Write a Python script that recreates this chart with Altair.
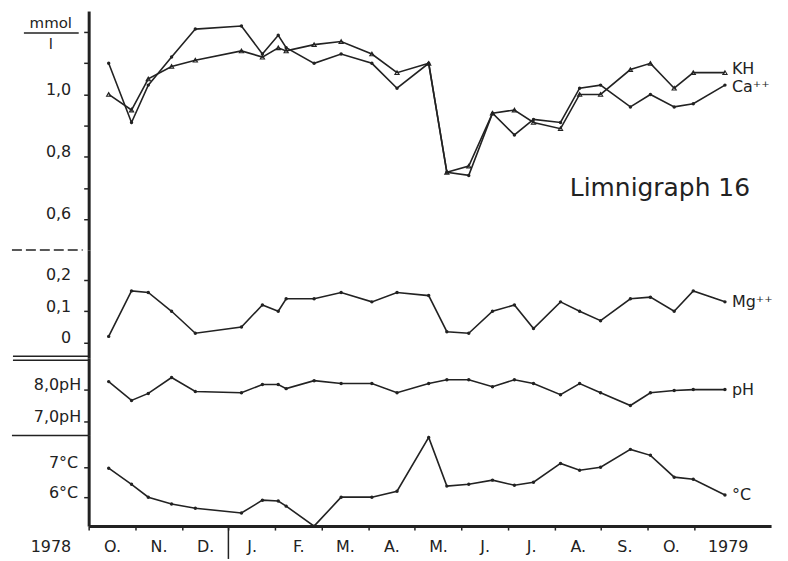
import altair as alt
import pandas as pd

# Sampling dates, in months since 1 October 1978 (ticks fall on month starts)
sample_month = [0.43, 0.92, 1.28, 1.78, 2.29, 3.28, 3.73, 4.07, 4.24, 4.84,
                5.42, 6.08, 6.62, 7.30, 7.69, 8.16, 8.67, 9.14, 9.55, 10.13,
                10.54, 10.99, 11.63, 12.06, 12.57, 12.98, 13.66]

# Carbonate hardness and calcium, mmol/l
kh = [1.00, 0.95, 1.05, 1.09, 1.11, 1.14, 1.12, 1.15, 1.14, 1.16,
      1.17, 1.13, 1.07, 1.10, 0.75, 0.77, 0.94, 0.95, 0.91, 0.89,
      1.00, 1.00, 1.08, 1.10, 1.02, 1.07, 1.07]
ca = [1.10, 0.91, 1.03, 1.12, 1.21, 1.22, 1.13, 1.19, 1.15, 1.10,
      1.13, 1.10, 1.02, 1.10, 0.75, 0.74, 0.94, 0.87, 0.92, 0.91,
      1.02, 1.03, 0.96, 1.00, 0.96, 0.97, 1.03]
# Magnesium, mmol/l
mg = [0.02, 0.165, 0.16, 0.10, 0.03, 0.05, 0.12, 0.10, 0.14, 0.14,
      0.16, 0.13, 0.16, 0.15, 0.035, 0.03, 0.10, 0.12, 0.045, 0.13,
      0.10, 0.07, 0.14, 0.145, 0.10, 0.165, 0.13]
# pH
ph = [8.25, 7.66, 7.88, 8.38, 7.94, 7.90, 8.16, 8.16, 8.03, 8.28,
      8.19, 8.19, 7.90, 8.19, 8.31, 8.31, 8.09, 8.31, 8.19, 7.84,
      8.19, 7.90, 7.50, 7.90, 7.97, 8.00, 8.00]
# Water temperature, deg C
temp = [6.97, 6.43, 6.00, 5.77, 5.63, 5.47, 5.90, 5.87, 5.70, 5.03,
        6.00, 6.00, 6.20, 8.00, 6.37, 6.43, 6.57, 6.40, 6.50, 7.13,
        6.90, 7.00, 7.60, 7.40, 6.67, 6.60, 6.07]

month_labels = ["O.", "N.", "D.", "J.", "F.", "M.", "A.", "M.", "J.", "J.", "A.", "S.", "O."]
year_labels = ["1978", "1979"]
year_pos = [-0.81, 13.73]

INK = "#222222"
FONT = "DejaVu Sans"
W = 685
XMAX = 14.65
dummy = pd.DataFrame({"k": [0]})


def xenc(axis=None):
    return alt.X("m:Q", scale=alt.Scale(domain=[0, XMAX], nice=False, zero=False), axis=axis)


def yaxis(values, expr, pad):
    return alt.Axis(values=values, labelExpr=expr, title=None, grid=False,
                    tickSize=5, tickWidth=1.5, tickColor=INK,
                    domainWidth=3, domainColor=INK, labelPadding=pad,
                    labelFont=FONT, labelFontSize=16, labelColor=INK,
                    labelBaseline="alphabetic", labelOverlap=False)


def yenc(domain, axis):
    return alt.Y("v:Q", scale=alt.Scale(domain=domain, nice=False, zero=False), axis=axis)


def trace(values, y, x, marker="dot"):
    df = pd.DataFrame({"m": sample_month, "v": values})
    line = alt.Chart(df).mark_line(color=INK, strokeWidth=1.6).encode(x=x, y=y)
    if marker == "triangle":
        pts = alt.Chart(df).mark_point(shape="triangle-up", size=18, filled=False,
                                       color=INK, strokeWidth=1.1, opacity=1).encode(x=x, y=y)
    else:
        pts = alt.Chart(df).mark_circle(size=12, color=INK, opacity=1).encode(x=x, y=y)
    return [line, pts]


def end_label(values, text, y, x, dy=0):
    df = pd.DataFrame({"m": [sample_month[-1]], "v": [values[-1]], "label": [text]})
    return alt.Chart(df).mark_text(align="left", baseline="middle", dx=7, dy=dy, font=FONT,
                                   fontSize=16, color=INK).encode(x=x, y=y, text="label:N")


def hrule(x0, x1, y, dash=None):
    kw = dict(color=INK, strokeWidth=1.5)
    if dash:
        kw["strokeDash"] = dash
    return alt.Chart(dummy).mark_rule(**kw).encode(
        x=alt.value(x0), x2=alt.value(x1), y=alt.value(y))


# --- KH / Ca panel ---
x1 = xenc()
y1 = yenc([0.5, 1.268], yaxis([0.6, 0.7, 0.8, 0.9, 1.0, 1.1, 1.2],
          "(round(datum.value*10) % 2 == 0 && datum.value < 1.1) ? "
          "replace(format(datum.value, '.1f'), '.', ',') : ''", 13))
panel1 = alt.layer(
    *trace(ca, y1, x1, "dot"),
    *trace(kh, y1, x1, "triangle"),
    end_label(kh, "KH", y1, x1, dy=-4),
    end_label(ca, "Ca\u207a\u207a", y1, x1, dy=2),
    alt.Chart(dummy).mark_text(align="left", baseline="alphabetic", font=FONT,
                               fontSize=25, color=INK).encode(
        x=alt.value(483), y=alt.value(186), text=alt.value("Limnigraph 16")),
    alt.Chart(dummy).mark_text(align="center", baseline="middle", font=FONT,
                               fontSize=15, color=INK).encode(
        x=alt.value(-38), y=alt.value(12), text=alt.value("mmol")),
    alt.Chart(dummy).mark_text(align="center", baseline="middle", font=FONT,
                               fontSize=15, color=INK).encode(
        x=alt.value(-38), y=alt.value(33), text=alt.value("l")),
    hrule(-65, -10, 22),
).properties(width=W, height=240)

# --- Mg panel ---
y2 = yenc([-0.048, 0.295], yaxis([0, 0.1, 0.2],
          "abs(datum.value) < 1e-9 ? '0' : replace(format(datum.value, '.1f'), '.', ',')", 13))
panel2 = alt.layer(
    *trace(mg, y2, x1),
    end_label(mg, "Mg\u207a\u207a", y2, x1),
    hrule(-77, -6, 0, [10, 4]),
).properties(width=W, height=108)

# --- pH panel ---
y3 = yenc([6.5625, 9.0], yaxis([7, 8],
          "replace(format(datum.value, '.1f'), '.', ',') + 'pH'", 3))
panel3 = alt.layer(
    *trace(ph, y3, x1),
    end_label(ph, "pH", y3, x1),
    hrule(-76, 0, -1.5),
    hrule(-76, 0, 2.5),
).properties(width=W, height=78)

# --- temperature panel with the month axis ---
month_expr = "datum.value < 13 ? [" + ",".join("'%s'" % s for s in month_labels) + "][datum.value] : ''"
x4 = xenc(alt.Axis(values=list(range(14)), labelExpr=month_expr, title=None, grid=False,
                   tickSize=4, tickWidth=1.5, tickColor=INK, domainWidth=3, domainColor=INK,
                   labelOffset=23.4, labelPadding=9, labelFlush=False, labelOverlap=False,
                   labelFont=FONT, labelFontSize=16, labelColor=INK))
y4 = yenc([5.033, 8.067], yaxis([6, 7], "format(datum.value, 'd') + '\u00b0C'", 6))
years = pd.DataFrame({"m": year_pos, "label": year_labels})
panel4 = alt.layer(
    *trace(temp, y4, x4),
    end_label(temp, "\u00b0C", y4, x4),
    hrule(-77, 0, 0),
    alt.Chart(years).mark_text(align="center", baseline="top", font=FONT, fontSize=16,
                               color=INK).encode(x=x4, y=alt.value(104), text="label:N"),
    alt.Chart(pd.DataFrame({"m": [3]})).mark_rule(color=INK, strokeWidth=1.5).encode(
        x=x4, y=alt.value(91), y2=alt.value(124)),
).properties(width=W, height=91)

chart = alt.vconcat(panel1, panel2, panel3, panel4, spacing=0, bounds="flush").properties(
    padding={"left": 11, "top": 10, "right": 15, "bottom": 0},
    background="white",
).configure_view(stroke=None)

chart.save("out.html", embed_options={"renderer": "svg", "actions": False})
